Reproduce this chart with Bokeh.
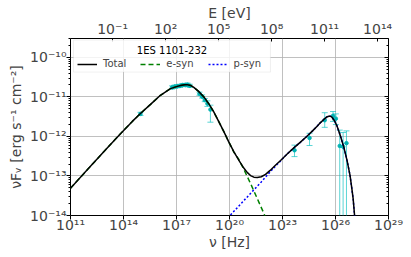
import numpy as np
from bokeh.plotting import figure
from bokeh.models import (LogAxis, Range1d, FixedTicker, CustomJSTickFormatter, LogScale,
                          ColumnDataSource, Legend, LegendItem, Label, BoxAnnotation)
from bokeh.embed import file_html
from bokeh.resources import INLINE

H_EV = 4.135667e-15  # eV s

# ---- model curves (log10 nu [Hz], log10 nuFnu [erg s^-1 cm^-2])
total_lognu = [11.0, 12.0, 13.0, 13.83, 14.5, 14.96, 15.53, 16.09, 16.66, 17.0, 17.23, 17.45,
               17.6, 17.8, 17.98, 18.25, 18.55, 18.85, 19.11, 19.4, 19.68, 19.95, 20.25, 20.55,
               20.81, 21.0, 21.19, 21.38, 21.57, 21.8, 22.04, 22.3, 22.6, 22.89, 23.25, 23.64,
               24.0, 24.4, 24.7, 24.96, 25.15, 25.34, 25.5, 25.62, 25.72, 25.81, 25.95, 26.09,
               26.28, 26.47, 26.65, 26.82, 26.92, 27.0, 27.07, 27.12]
total_logF = [-13.31, -12.82, -12.33, -11.93, -11.62, -11.42, -11.19, -10.96, -10.79, -10.74,
              -10.71, -10.69, -10.69, -10.71, -10.76, -10.86, -11.0, -11.19, -11.38, -11.63,
              -11.88, -12.13, -12.39, -12.62, -12.80, -12.91, -12.99, -13.03, -13.04, -13.02,
              -12.96, -12.86, -12.73, -12.61, -12.45, -12.29, -12.15, -11.99, -11.86, -11.74,
              -11.65, -11.57, -11.51, -11.49, -11.49, -11.52, -11.61, -11.74, -11.99, -12.27,
              -12.60, -12.98, -13.30, -13.58, -13.95, -14.20]

esyn_lognu = [11.0, 12.0, 13.0, 13.83, 14.5, 14.96, 15.53, 16.09, 16.66, 17.0, 17.23, 17.45,
              17.6, 17.8, 17.98, 18.25, 18.55, 18.85, 19.11, 19.4, 19.68, 19.95, 20.25, 20.5,
              20.81, 21.19, 21.57, 21.94, 22.1]
esyn_logF = [-13.31, -12.82, -12.33, -11.93, -11.62, -11.42, -11.19, -10.96, -10.79, -10.74,
             -10.71, -10.69, -10.69, -10.71, -10.76, -10.86, -11.0, -11.19, -11.38, -11.63,
             -11.88, -12.13, -12.40, -12.56, -12.83, -13.19, -13.57, -13.94, -14.12]

psyn_lognu = [19.9, 20.3, 20.8, 21.3, 21.8, 22.3, 22.6, 22.89, 23.25, 23.64, 24.0, 24.4, 24.7,
              24.96, 25.15, 25.34, 25.5, 25.62, 25.72, 25.81, 25.95, 26.09, 26.28, 26.47, 26.65,
              26.82, 26.92, 27.0, 27.07, 27.12]
psyn_logF = [-14.06, -13.87, -13.63, -13.39, -13.15, -12.90, -12.75, -12.62, -12.45, -12.29,
             -12.15, -11.99, -11.86, -11.74, -11.65, -11.57, -11.51, -11.49, -11.49, -11.52,
             -11.61, -11.74, -11.99, -12.27, -12.60, -12.98, -13.30, -13.58, -13.95, -14.20]

# ---- observed SED points
data_lognu = [14.96, 16.75, 16.9, 17.05, 17.2, 17.35, 17.5, 17.62, 17.75, 18.3, 18.45, 18.6,
              18.75, 18.92, 23.68, 24.53, 25.39, 25.86, 26.02, 26.24, 26.43, 26.62]
data_logF = [-11.43, -10.76, -10.74, -10.73, -10.72, -10.70, -10.70, -10.69, -10.72, -10.92,
             -10.99, -11.08, -11.17, -11.32, -12.35, -12.04, -11.59, -11.48, -11.55, -12.24,
             -12.26, -12.17]
data_logF_hi = [-11.39, -10.72, -10.70, -10.69, -10.68, -10.66, -10.66, -10.65, -10.68, -10.88,
                -10.95, -11.04, -11.10, -11.21, -12.22, -11.92, -11.40, -11.37, -11.43, -11.84,
                -11.90, -11.86]
data_logF_lo = [-11.47, -10.80, -10.78, -10.77, -10.76, -10.74, -10.74, -10.73, -10.76, -10.96,
                -11.03, -11.12, -11.24, -11.64, -12.51, -12.23, -11.77, -11.62, -11.70, -16.0,
                -16.0, -16.0]

x_major = [1e11, 1e14, 1e17, 1e20, 1e23, 1e26, 1e29]
y_major = [1e-14, 1e-13, 1e-12, 1e-11, 1e-10]
e_major = [1e-1, 1e2, 1e5, 1e8, 1e11, 1e14]

source_name = "1ES 1101-232"
x_label = "\u03bd [Hz]"
y_label = "\u03bdF\u1d65 [erg s\u207b\u00b9 cm\u207b\u00b2]"
top_label = "E [eV]"

FONT = "DejaVu Sans"

def p10(a):
    return list(10.0 ** np.array(a))

sup_js = """
const sup = {'-':'\u207b','0':'\u2070','1':'\u00b9','2':'\u00b2','3':'\u00b3','4':'\u2074',
             '5':'\u2075','6':'\u2076','7':'\u2077','8':'\u2078','9':'\u2079'};
const e = Math.round(Math.log10(tick));
return '10' + String(e).split('').map(c => sup[c]).join('');
"""
fmt = CustomJSTickFormatter(code=sup_js)
blank = CustomJSTickFormatter(code="return '';")

p = figure(width=411, height=257, x_axis_type="log", y_axis_type="log",
           x_range=Range1d(1e11, 1e29), y_range=Range1d(1e-14, 3.0e-10),
           output_backend="svg", toolbar_location=None,
           min_border_left=70, min_border_right=23, min_border_top=38, min_border_bottom=42)
p.outline_line_color = "black"
p.outline_line_width = 1
p.background_fill_color = "white"

y_minor = [m * 10.0 ** e for e in range(-14, -9) for m in range(2, 10)]

xa = p.xaxis[0]
xa.ticker = FixedTicker(ticks=x_major, minor_ticks=[])
xa.formatter = fmt
xa.axis_label = x_label
ya = p.yaxis[0]
ya.ticker = FixedTicker(ticks=y_major, minor_ticks=y_minor)
ya.formatter = fmt
ya.axis_label = y_label

p.extra_x_ranges = {"E": Range1d(1e11 * H_EV, 1e29 * H_EV)}
p.extra_x_scales = {"E": LogScale()}
top = LogAxis(x_range_name="E", ticker=FixedTicker(ticks=e_major, minor_ticks=[]),
              formatter=fmt, axis_label=top_label)
p.add_layout(top, "above")
right = LogAxis(ticker=FixedTicker(ticks=y_major, minor_ticks=y_minor), formatter=blank)
p.add_layout(right, "right")

for ax in (xa, ya, top):
    ax.major_label_text_font = FONT
    ax.major_label_text_font_size = "14px"
    ax.axis_label_text_font = FONT
    ax.axis_label_text_font_size = "14px"
    ax.axis_label_text_font_style = "normal"
    ax.axis_line_color = None
    ax.major_tick_line_color = "black"
    ax.minor_tick_line_color = "black"
    ax.major_tick_out = 4
    ax.major_tick_in = 0
    ax.minor_tick_out = 2
    ax.minor_tick_in = 0
xa.major_label_standoff = -3
xa.axis_label_standoff = -2
ya.major_label_standoff = 0
ya.axis_label_standoff = 3
top.major_tick_out = 0
top.major_tick_in = 3
top.major_label_standoff = 2
top.axis_label_standoff = -3
right.axis_line_color = None
right.major_tick_out = 0
right.major_tick_in = 4
right.minor_tick_out = 0
right.minor_tick_in = 2
right.major_label_standoff = 0

p.xgrid.ticker = FixedTicker(ticks=x_major)
p.ygrid.ticker = FixedTicker(ticks=y_major)
for g in (p.xgrid, p.ygrid):
    g.grid_line_color = "#b0b0b0"
    g.grid_line_width = 1
    g.grid_line_alpha = 0.8

# data with error bars
dsrc = ColumnDataSource(dict(x=p10(data_lognu), y=p10(data_logF),
                             hi=p10(data_logF_hi), lo=p10(data_logF_lo)))
p.segment(x0="x", y0="lo", x1="x", y1="hi", source=dsrc, line_color="#00bfbf",
          line_alpha=0.65, line_width=1)
p.scatter(x="x", y="hi", source=dsrc, marker="dash", size=6, line_color="#00bfbf",
          line_alpha=0.65, line_width=1)
p.scatter(x="x", y="lo", source=dsrc, marker="dash", size=6, line_color="#00bfbf",
          line_alpha=0.65, line_width=1)
p.scatter(x="x", y="y", source=dsrc, marker="circle", size=3.5, fill_color="#00b3b3",
          line_color="#00b3b3")

r_e = p.line(p10(esyn_lognu), p10(esyn_logF), line_color="#008000", line_width=1.5,
             line_dash="5 3")
r_p = p.line(p10(psyn_lognu), p10(psyn_logF), line_color="#0000ff", line_width=1.5,
             line_dash="2 2")
r_t = p.line(p10(total_lognu), p10(total_logF), line_color="black", line_width=1.5)

# legend frame (legend box corners, in axis coordinates)
box = BoxAnnotation(left=10 ** 11.17, right=10 ** 22.32, bottom=10 ** -10.372, top=10 ** -9.563,
                    fill_color="white", fill_alpha=0.8, line_color="#cccccc",
                    line_width=1, level="annotation")
p.add_layout(box)
p.add_layout(Label(x=101.5, y=165, x_units="screen", y_units="screen", text=source_name,
                   text_align="center", text_baseline="middle", text_font=FONT,
                   text_font_size="10px", text_color="black"))
leg = Legend(items=[LegendItem(label="Total", renderers=[r_t]),
                    LegendItem(label="e-syn", renderers=[r_e]),
                    LegendItem(label="p-syn", renderers=[r_p])],
             orientation="horizontal", location=(7, 145.5), margin=0, padding=0,
             spacing=14, glyph_width=20, glyph_height=12, label_height=12,
             label_standoff=6, label_text_font=FONT, label_text_font_size="10px",
             border_line_alpha=0, background_fill_alpha=0)
p.add_layout(leg, "center")

open("out.html", "w").write(file_html(p, INLINE))
